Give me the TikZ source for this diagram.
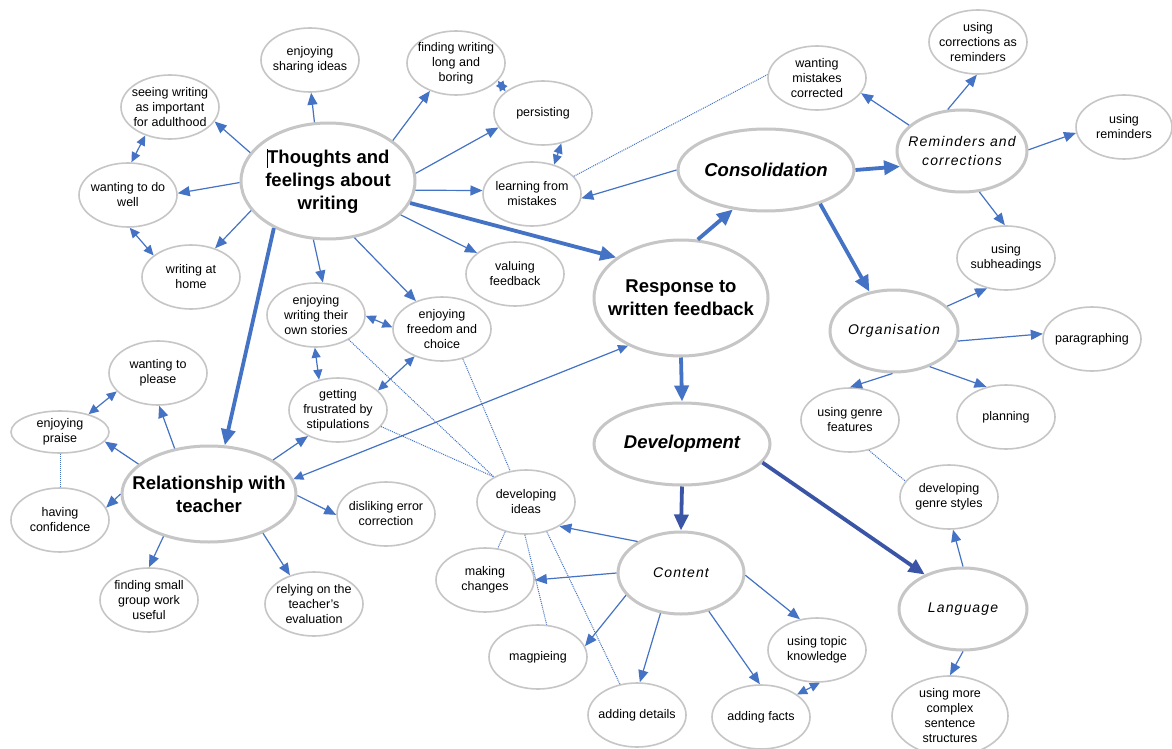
\documentclass[tikz,border=0pt]{standalone}
\usepackage{fontspec}
\setmainfont{Liberation Sans}
\usetikzlibrary{shapes.geometric,arrows.meta}
\definecolor{linkblue}{HTML}{4472C4}
\definecolor{deepblue}{HTML}{3A55A6}
\definecolor{rimgrey}{HTML}{C6C6C6}

\begin{document}
\begin{tikzpicture}[x=1pt,y=-1pt,
  bubble/.style={ellipse, draw=rimgrey, line width=1.6pt, fill=white,
    inner sep=-30pt, align=center, minimum width=98pt, minimum height=64pt,
    font=\fontsize{12.5}{15}\selectfont},
  hub/.style={bubble, line width=3pt, font=\fontsize{18.5}{23}\bfseries},
  hubit/.style={hub, font=\fontsize{18.5}{23}\bfseries\itshape},
  theme/.style={bubble, line width=3pt,
    font=\fontsize{14}{19}\itshape\addfontfeatures{LetterSpace=8}},
  sz/.style 2 args={minimum width=#1pt, minimum height=#2pt},
  link/.style={draw=linkblue, line width=1.2pt, -{Triangle[length=12pt,width=10pt]}},
  twoway/.style={draw=linkblue, line width=1.2pt,
    {Triangle[length=10pt,width=9pt]}-{Triangle[length=10pt,width=9pt]}},
  strong/.style={draw=linkblue, line width=3.8pt, -{Triangle[length=16pt,width=14pt]}},
  darkstrong/.style={strong, draw=deepblue},
  assoc/.style={draw=linkblue, line width=1pt, densely dotted}
]
\fill[white] (0,0) rectangle (1172,749);
\useasboundingbox (0,0) rectangle (1172,749);

% thoughts and feelings cluster
\node[hub, sz={174}{116}] (thoughts) at (328,181)
  {\rule[-4pt]{0.6pt}{19pt}Thoughts and\\feelings about\\writing};
\node[bubble] (share)  at (310,60)  {enjoying\\sharing ideas};
\node[bubble] (boring) at (456,63)  {finding writing\\long and\\boring};
\node[bubble] (adult)  at (170,107) {seeing writing\\as important\\for adulthood};
\node[bubble] (persist) at (543,113) {persisting};
\node[bubble] (welldo) at (128,195) {wanting to do\\well};
\node[bubble] (learn)  at (532,194) {learning from\\mistakes};
\node[bubble] (home)   at (191,277) {writing at\\home};
\node[bubble] (value)  at (515,274) {valuing\\feedback};
\node[bubble] (stories) at (316,315) {enjoying\\writing their\\own stories};
\node[bubble] (freedom) at (442,329) {enjoying\\freedom and\\choice};
\node[bubble] (stipul) at (338,410) {getting\\frustrated by\\stipulations};

% central spine
\node[hub, sz={174}{116}] (response) at (681,298) {Response to\\written feedback};
\node[hubit, sz={176}{82}] (consol) at (766,170) {Consolidation};
\node[hubit, sz={176}{82}] (develop) at (682,444) {Development};

% consolidation branch
\node[bubble] (wantcorr) at (817,78)  {wanting\\mistakes\\corrected};
\node[bubble] (corrrem)  at (978,42)  {using\\corrections as\\reminders};
\node[theme, sz={130}{82}] (remind) at (962,151) {Reminders and\\corrections};
\node[bubble, sz={96}{64}] (userem) at (1124,127) {using\\reminders};
\node[bubble] (subhead) at (1006,258) {using\\subheadings};
\node[theme, sz={128}{82}] (organ) at (894,331) {Organisation};
\node[bubble] (para)    at (1092,339) {paragraphing};
\node[bubble] (genref)  at (850,420) {using genre\\features};
\node[bubble] (plan)    at (1006,417) {planning};
\node[bubble] (genres)  at (949,497) {developing\\genre styles};

% development branch
\node[theme, sz={128}{82}] (lang) at (963,609) {Language};
\node[bubble, sz={116}{80}] (complex) at (950,716) {using more\\complex\\sentence\\structures};
\node[theme, sz={126}{82}] (content) at (681,573) {Content};
\node[bubble] (topic)   at (817,650) {using topic\\knowledge};
\node[bubble] (facts)   at (761,717) {adding facts};
\node[bubble] (details) at (637,715) {adding details};
\node[bubble] (magpie)  at (538,657) {magpieing};
\node[bubble] (changes) at (485,580) {making\\changes};
\node[bubble] (ideas)   at (526,502) {developing\\ideas};

% relationship cluster
\node[hub, sz={174}{96}] (teacher) at (209,494) {Relationship with\\teacher};
\node[bubble] (please)  at (158,373) {wanting to\\please};
\node[bubble, sz={98}{42}] (praise) at (60,432) {enjoying\\praise};
\node[bubble] (confid)  at (60,520)  {having\\confidence};
\node[bubble] (dislike) at (386,514) {disliking error\\correction};
\node[bubble] (group)   at (149,600) {finding small\\group work\\useful};
\node[bubble] (rely)    at (314,604) {relying on the\\teacher’s\\evaluation};

% connectors from thoughts and feelings
\draw[link] (thoughts.103) -- (share.272);
\draw[link] (thoughts.160) -- (adult.-18);
\draw[link] (thoughts.181) -- (welldo.2);
\draw[link] (thoughts.201) -- (home.50);
\draw[link] (thoughts.32)  -- (boring.227);
\draw[link] (thoughts.5)   -- (persist.198);
\draw[link] (thoughts.-6)  -- (learn.176);
\draw[link] (thoughts.-25) -- (value.151);
\draw[link] (thoughts.256) -- (stories.78);
\draw[link] (thoughts.-65) -- (freedom.133);
\draw[strong] (thoughts.-15) -- (response.148);
\draw[strong] (thoughts.221) -- (teacher.72);
\draw[twoway] (adult.229) -- (welldo.84);
\draw[twoway] (welldo.273) -- (home.150);
\draw[twoway] (boring.-23) -- (persist.150);
\draw[twoway] (persist.-59) -- (learn.53);
\draw[twoway] (stories.-1) -- (freedom.178);
\draw[twoway] (stories.268) -- (stipul.122);
\draw[twoway] (freedom.225) -- (stipul.26);

% spine
\draw[strong] (response.74) -- (consol.230);
\draw[strong] (response.270) -- (develop.90);
\draw[strong] (consol.0) -- (remind.194);
\draw[strong] (consol.-32) -- (organ.122);
\draw[link] (consol.180) -- (learn.-5);
\draw[assoc] (learn.23) -- (wantcorr.176);

% reminders and organisation
\draw[link] (remind.154) -- (wantcorr.-19);
\draw[link] (remind.109) -- (corrrem.268);
\draw[link] (remind.1) -- (userem.187);
\draw[link] (remind.-67) -- (subhead.92);
\draw[link] (organ.25) -- (subhead.238);
\draw[link] (organ.-9) -- (para.174);
\draw[link] (organ.268) -- (genref.90);
\draw[link] (organ.-45) -- (plan.123);
\draw[assoc] (genref.-58) -- (genres.160);

% development branch
\draw[darkstrong] (develop.-13) -- (lang.138);
\draw[darkstrong] (develop.270) -- (content.90);
\draw[link] (lang.90) -- (genres.-83);
\draw[link] (lang.270) -- (complex.90);
\draw[link] (content.144) -- (ideas.-36);
\draw[link] (content.180) -- (changes.0);
\draw[link] (content.202) -- (magpie.13);
\draw[link] (content.243) -- (details.85);
\draw[link] (content.-54) -- (facts.92);
\draw[link] (content.-2) -- (topic.119);
\draw[twoway] (topic.-85) -- (facts.32);
\draw[assoc] (ideas.235) -- (changes.68);
\draw[assoc] (ideas.268) -- (magpie.75);
\draw[assoc] (ideas.-55) -- (details.119);
\draw[assoc] (stories.-37) -- (ideas.142);
\draw[assoc] (freedom.-55) -- (ideas.117);
\draw[assoc] (stipul.-21) -- (ideas.142);

% relationship with teacher
\draw[link] (teacher.28) -- (stipul.221);
\draw[twoway] (teacher.10) -- (response.222);
\draw[link] (teacher.127) -- (please.-88);
\draw[link] (teacher.157) -- (praise.-12);
\draw[link] (teacher.180) -- (confid.15);
\draw[link] (teacher.-1) -- (dislike.181);
\draw[link] (teacher.223) -- (group.90);
\draw[link] (teacher.-36) -- (rely.130);
\draw[twoway] (please.204) -- (praise.32);
\draw[assoc] (praise.270) -- (confid.90);
\end{tikzpicture}
\end{document}
